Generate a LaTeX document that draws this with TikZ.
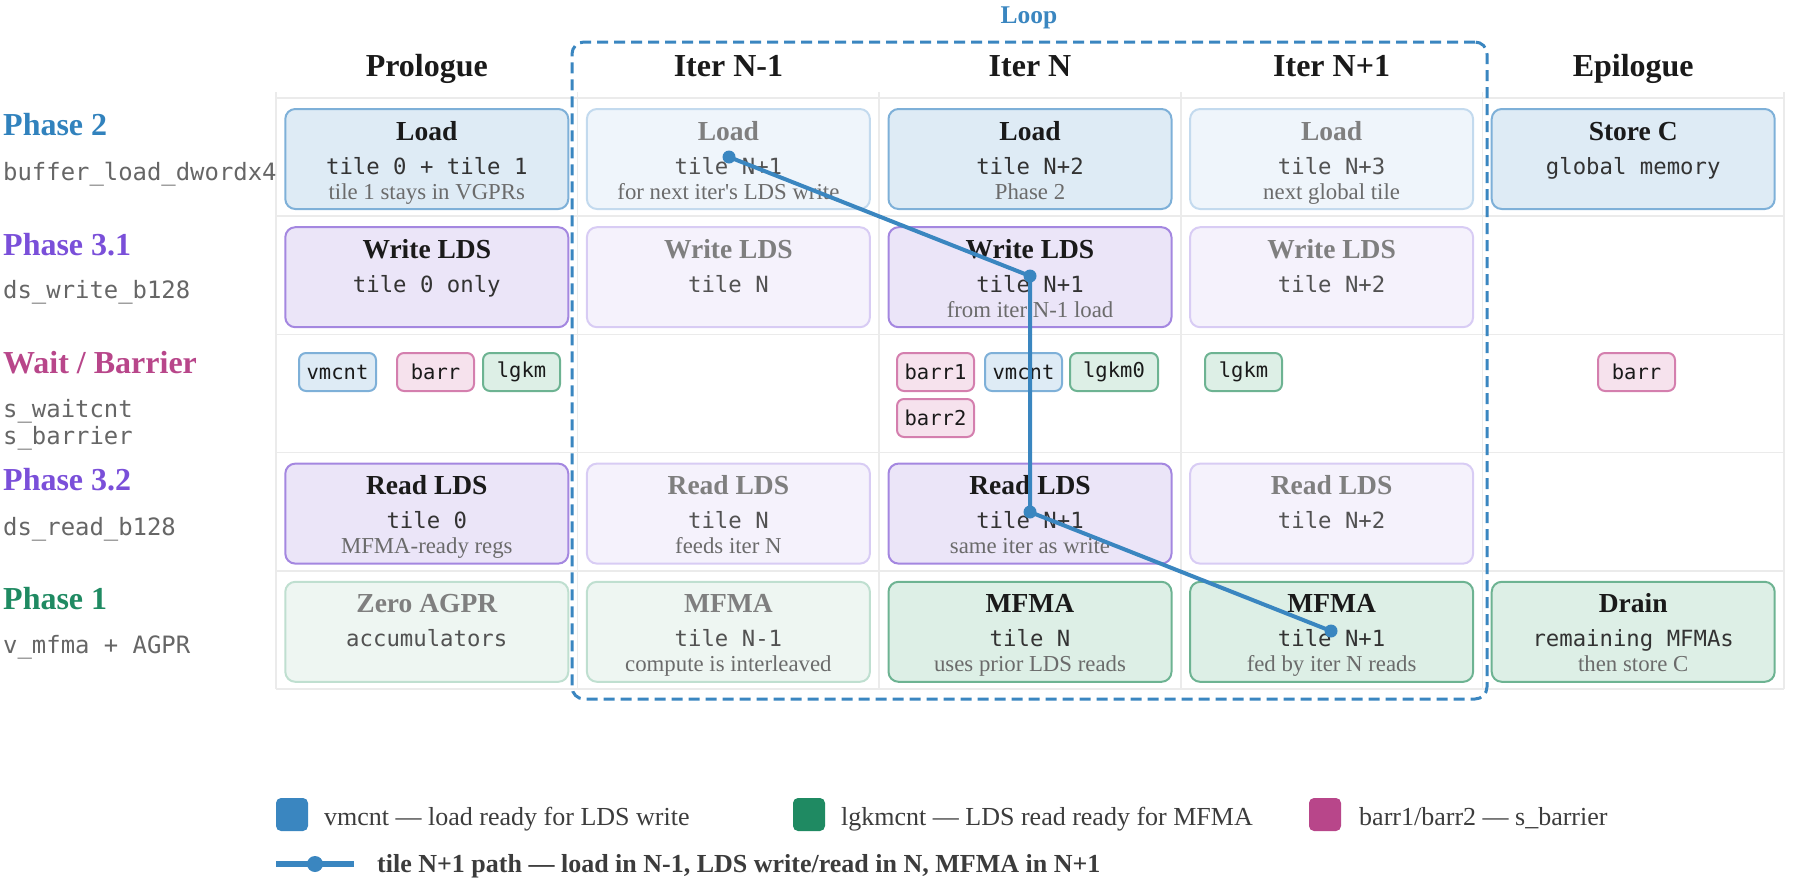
\documentclass[tikz,border=0pt]{standalone}
\usepackage{fontspec}
\setmainfont{Liberation Serif}
\setmonofont{DejaVu Sans Mono}
\usetikzlibrary{positioning}

\definecolor{loadln}{HTML}{7EB0D8}
\definecolor{loadbg}{HTML}{DEEBF5}
\definecolor{loadlnf}{HTML}{C3DAEE}
\definecolor{loadbgf}{HTML}{EFF5FB}
\definecolor{ldsln}{HTML}{A487E0}
\definecolor{ldsbg}{HTML}{EBE5F8}
\definecolor{ldslnf}{HTML}{D8CCF4}
\definecolor{ldsbgf}{HTML}{F5F2FC}
\definecolor{mfmaln}{HTML}{6DB392}
\definecolor{mfmabg}{HTML}{DDEFE6}
\definecolor{mfmalnf}{HTML}{BFDFD0}
\definecolor{mfmabgf}{HTML}{EEF6F2}
\definecolor{barrln}{HTML}{D47FAE}
\definecolor{barrbg}{HTML}{F6E2ED}
\definecolor{bluec}{HTML}{3A86C0}
\definecolor{phasetwo}{HTML}{3182BD}
\definecolor{greenc}{HTML}{1F8A62}
\definecolor{pinkc}{HTML}{B8468A}
\definecolor{purplec}{HTML}{7A4FD9}
\definecolor{gridc}{HTML}{EBEBEB}
\definecolor{ink}{HTML}{1A1A1A}
\definecolor{inkfade}{HTML}{7F7F7F}
\definecolor{monoink}{HTML}{333333}
\definecolor{noteink}{HTML}{6B6B6B}
\definecolor{labink}{HTML}{666666}

\tikzset{
  cellbox/.style={rounded corners=10pt, line width=2pt, minimum width=283pt,
    minimum height=100pt, inner sep=0pt},
  loadbox/.style={cellbox, fill=loadbg, draw=loadln},
  loadfade/.style={cellbox, fill=loadbgf, draw=loadlnf},
  ldsbox/.style={cellbox, fill=ldsbg, draw=ldsln},
  ldsfade/.style={cellbox, fill=ldsbgf, draw=ldslnf},
  mfmabox/.style={cellbox, fill=mfmabg, draw=mfmaln},
  mfmafade/.style={cellbox, fill=mfmabgf, draw=mfmalnf},
  title/.style={font=\bfseries\fontsize{27.5}{32}\selectfont, text=ink, inner sep=0pt},
  titlefade/.style={title, text=inkfade},
  mono/.style={font=\ttfamily\fontsize{22.3}{26}\selectfont, text=monoink, inner sep=0pt},
  monofade/.style={mono, text=monoink!85},
  note/.style={font=\fontsize{22.8}{26}\selectfont, text=noteink, inner sep=0pt},
  colhead/.style={font=\bfseries\fontsize{32}{36}\selectfont, text=ink, inner sep=0pt},
  phase/.style={font=\bfseries\fontsize{32}{36}\selectfont, inner sep=0pt, anchor=base west},
  instr/.style={font=\ttfamily\fontsize{23.9}{28}\selectfont, text=labink, inner sep=0pt, anchor=base west},
  chip/.style={rounded corners=7pt, line width=2pt, minimum height=38pt, minimum width=77pt,
    inner sep=0pt, anchor=west, text=ink, font=\ttfamily\fontsize{20.5}{24}\selectfont},
  vmchip/.style={chip, fill=loadbg, draw=loadln},
  barrchip/.style={chip, fill=barrbg, draw=barrln},
  lgkmchip/.style={chip, fill=mfmabg, draw=mfmaln},
  gridline/.style={draw=gridc, line width=1.5pt},
  loopbox/.style={draw=bluec, line width=3pt, dash pattern=on 11pt off 6pt,
    rounded corners=12pt, inner sep=0pt},
  pathdot/.style={circle, fill=bluec, minimum size=13pt, inner sep=0pt},
  tilepath/.style={draw=bluec, line width=4pt},
  swatch/.style={rounded corners=5pt, minimum width=32pt, minimum height=33pt, inner sep=0pt},
  legtext/.style={font=\fontsize{26}{30}\selectfont, text=ink!85, inner sep=0pt, anchor=base west},
}

\begin{document}
\begin{tikzpicture}[x=1pt, y=-1pt]
  \useasboundingbox (0,0) rectangle (1802,879);

  \newcommand\X{301.6}
  \newcommand\Y{118.2}
  % name, column, row, box style, fade, title, code, note
  \newcommand\phasecell[8]{%
    \node[#4, anchor=north] (#1) at ({426.8+#2*\X}, {108+#3*\Y}) {};
    \node[title#5, anchor=base] (#1-t) at ([yshift=-32pt]#1.north) {#6};
    \node[mono#5, anchor=base] (#1-m) at ([yshift=-66pt]#1.north) {#7};
    \node[note, anchor=base] (#1-n) at ([yshift=-91pt]#1.north) {#8};
  }

  % grid
  \foreach \i in {0,...,5}
    \draw[gridline] ({276+\i*\X},92) -- ({276+\i*\X},689);
  \foreach \j in {0,...,5}
    \draw[gridline] (276,{98+\j*\Y}) -- (1784,{98+\j*\Y});

  % column heads
  \foreach \h [count=\i from 0] in {Prologue, Iter N-1, Iter N, Iter N+1, Epilogue}
    \node[colhead, anchor=base] (head\i) at ({426.8+\i*\X},76) {\h};

  % row labels
  \node[phase, text=phasetwo] (ph2) at (3,135) {Phase 2};
  \node[instr] (ph2-i) at (3,180) {buffer\_load\_dwordx4};
  \node[phase, text=purplec] (ph31) at (3,255) {Phase 3.1};
  \node[instr] (ph31-i) at (3,298) {ds\_write\_b128};
  \node[phase, text=pinkc] (wait) at (3,373) {Wait / Barrier};
  \node[instr] (wait-i) at (3,417) {s\_waitcnt};
  \node[instr] (wait-j) at (3,444) {s\_barrier};
  \node[phase, text=purplec] (ph32) at (3,490) {Phase 3.2};
  \node[instr] (ph32-i) at (3,535) {ds\_read\_b128};
  \node[phase, text=greenc] (ph1) at (3,609) {Phase 1};
  \node[instr] (ph1-i) at (3,653) {v\_mfma + AGPR};

  % phase 2: loads
  \phasecell{ld0}{0}{0}{loadbox}{}{Load}{tile 0 + tile 1}{tile 1 stays in VGPRs}
  \phasecell{ld1}{1}{0}{loadfade}{fade}{Load}{tile N+1}{for next iter\textquotesingle s LDS write}
  \phasecell{ld2}{2}{0}{loadbox}{}{Load}{tile N+2}{Phase 2}
  \phasecell{ld3}{3}{0}{loadfade}{fade}{Load}{tile N+3}{next global tile}
  \phasecell{ld4}{4}{0}{loadbox}{}{Store C}{global memory}{}

  % phase 3.1: LDS writes
  \phasecell{wr0}{0}{1}{ldsbox}{}{Write LDS}{tile 0 only}{}
  \phasecell{wr1}{1}{1}{ldsfade}{fade}{Write LDS}{tile N}{}
  \phasecell{wr2}{2}{1}{ldsbox}{}{Write LDS}{tile N+1}{from iter N-1 load}
  \phasecell{wr3}{3}{1}{ldsfade}{fade}{Write LDS}{tile N+2}{}

  % waits and barriers
  \node[vmchip] (w0a) at (298,372) {vmcnt};
  \node[barrchip] (w0b) at (396,372) {barr};
  \node[lgkmchip] (w0c) at (482,372) {lgkm};
  \node[barrchip] (w2a) at (896,372) {barr1};
  \node[vmchip] (w2b) at (984,372) {vmcnt};
  \node[lgkmchip, minimum width=88pt] (w2c) at (1069,372) {lgkm0};
  \node[barrchip] (w2d) at (896,418) {barr2};
  \node[lgkmchip] (w3a) at (1204,372) {lgkm};
  \node[barrchip] (w4a) at (1597,372) {barr};

  % phase 3.2: LDS reads
  \phasecell{rd0}{0}{3}{ldsbox}{}{Read LDS}{tile 0}{MFMA-ready regs}
  \phasecell{rd1}{1}{3}{ldsfade}{fade}{Read LDS}{tile N}{feeds iter N}
  \phasecell{rd2}{2}{3}{ldsbox}{}{Read LDS}{tile N+1}{same iter as write}
  \phasecell{rd3}{3}{3}{ldsfade}{fade}{Read LDS}{tile N+2}{}

  % phase 1: MFMA
  \phasecell{mf0}{0}{4}{mfmafade}{fade}{Zero AGPR}{accumulators}{}
  \phasecell{mf1}{1}{4}{mfmafade}{fade}{MFMA}{tile N-1}{compute is interleaved}
  \phasecell{mf2}{2}{4}{mfmabox}{}{MFMA}{tile N}{uses prior LDS reads}
  \phasecell{mf3}{3}{4}{mfmabox}{}{MFMA}{tile N+1}{fed by iter N reads}
  \phasecell{mf4}{4}{4}{mfmabox}{}{Drain}{remaining MFMAs}{then store C}

  % loop frame
  \node[loopbox, minimum width=915pt, minimum height=657pt] (loop) at (1029.5,370.5) {};
  \node[font=\bfseries\fontsize{25.5}{30}\selectfont, text=bluec, anchor=base, inner sep=0pt]
    (looplbl) at (1029,23) {Loop};

  % tile N+1 path
  \node[pathdot] (t1) at (729,157) {};
  \node[pathdot] (t2) at (1030,276) {};
  \node[pathdot] (t3) at (1030,512) {};
  \node[pathdot] (t4) at (1331,631) {};
  \draw[tilepath] (t1.center) -- (t2.center) -- (t3.center) -- (t4.center);

  % legend
  \node[swatch, fill=bluec] (sw1) at (292,814.5) {};
  \node[legtext] (lg1) at (324,825) {vmcnt --- load ready for LDS write};
  \node[swatch, fill=greenc] (sw2) at (809,814.5) {};
  \node[legtext] (lg2) at (841,825) {lgkmcnt --- LDS read ready for MFMA};
  \node[swatch, fill=pinkc] (sw3) at (1325,814.5) {};
  \node[legtext] (lg3) at (1359,825) {barr1/barr2 --- s\_barrier};
  \coordinate (k1) at (276,864);
  \coordinate (k2) at (354,864);
  \node[pathdot, minimum size=16pt] (kd) at (315,864) {};
  \draw[draw=bluec, line width=6pt] (k1) -- (k2);
  \node[legtext, font=\bfseries\fontsize{26}{30}\selectfont] (lg4) at (377,872)
    {tile N+1 path --- load in N-1, LDS write/read in N, MFMA in N+1};

\end{tikzpicture}
\end{document}
